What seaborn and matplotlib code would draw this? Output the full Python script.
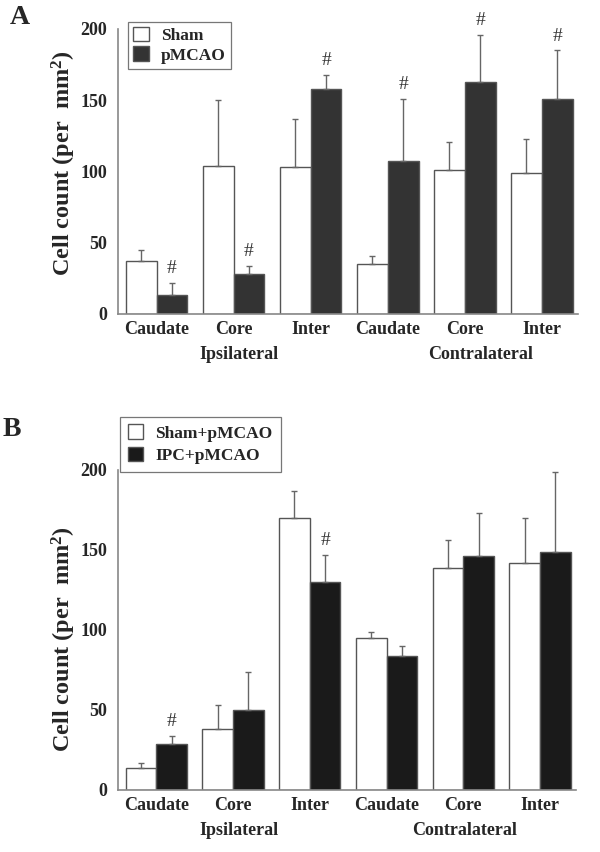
import matplotlib
matplotlib.use("Agg")
import matplotlib.pyplot as plt
import seaborn as sns
import numpy as np
import pandas as pd

# regions along the x axis (ipsilateral first, then contralateral)
regions = ["Caudate", "Core", "Inter", "Caudate", "Core", "Inter"]
region_keys = ["ipsi_caudate", "ipsi_core", "ipsi_inter",
               "contra_caudate", "contra_core", "contra_inter"]
sides = ["Ipsilateral", "Contralateral"]

# panel A
a_groups = ["Sham", "pMCAO"]
a_sham = [37, 104, 103, 35, 101, 99]
a_sham_err = [8, 46, 34, 6, 20, 24]
a_pmcao = [13, 28, 158, 107, 163, 151]
a_pmcao_err = [9, 6, 10, 44, 33, 34]
a_sig = [False, False, False, False, False, False], [True, True, True, True, True, True]

# panel B
b_groups = ["Sham+pMCAO", "IPC+pMCAO"]
b_sham = [14, 38, 170, 95, 139, 142]
b_sham_err = [3, 15, 17, 4, 17, 28]
b_ipc = [29, 50, 130, 84, 146, 149]
b_ipc_err = [5, 24, 17, 6, 27, 50]
b_sig = [False, False, False, False, False, False], [True, False, True, False, False, False]

sns.set_style("white")
plt.rcParams["font.family"] = ["Liberation Serif", "DejaVu Serif"]
plt.rcParams["font.weight"] = "bold"
plt.rcParams["mathtext.fontset"] = "custom"
plt.rcParams["mathtext.rm"] = "Liberation Serif:bold"
plt.rcParams["mathtext.bf"] = "Liberation Serif:bold"
plt.rcParams["mathtext.it"] = "Liberation Serif:bold"

fig = plt.figure(figsize=(6, 8.52), dpi=100)
ax_a = fig.add_axes([0.1967, 0.6315, 0.7667, 0.3345])
ax_b = fig.add_axes([0.1967, 0.0728, 0.7633, 0.3756])


def panel(ax, groups, v1, e1, v2, e2, sig, dark, leg_anchor, leg_loc, side_x, label_y,
          leg_spacing, leg_pad):
    df = pd.DataFrame({
        "region": region_keys * 2,
        "count": v1 + v2,
        "group": [groups[0]] * 6 + [groups[1]] * 6,
    })
    sns.barplot(data=df, x="region", y="count", hue="group", order=region_keys,
                hue_order=groups, palette={groups[0]: "white", groups[1]: dark},
                saturation=1, edgecolor="#555555", linewidth=1.0,
                errorbar=None, ax=ax)
    pos = np.arange(len(region_keys))
    for off, vals, errs, flags in [(-0.2, v1, e1, sig[0]), (0.2, v2, e2, sig[1])]:
        ax.errorbar(pos + off, vals, yerr=[np.zeros(len(errs)), errs], fmt="none",
                    ecolor="#666666", elinewidth=1.0, capsize=2.5, capthick=1.0)
        for x, v, e, f in zip(pos + off, vals, errs, flags):
            if f:
                ax.annotate("#", (x, v + e), xytext=(0, 4), textcoords="offset points",
                            ha="center", va="bottom", fontsize=14, fontweight="normal",
                            color="#333333")
    ax.set_xlim(-0.5, 5.47)
    ax.set_ylim(0, 200)
    ax.set_yticks([0, 50, 100, 150, 200])
    ax.set_xticks(pos)
    ax.set_xticklabels(regions, fontsize=13, fontweight="bold")
    ax.tick_params(axis="x", length=0, pad=5)
    ax.tick_params(axis="y", length=5, width=1, color="#888888", direction="out",
                   labelsize=13, pad=3)
    for t in ax.get_yticklabels():
        t.set_fontweight("bold")
    ax.set_xlabel("")
    ax.set_ylabel("Cell count (per  mm$^2$)", fontsize=17.5, fontweight="bold")
    ax.yaxis.set_label_coords(-0.088, label_y)
    for s in ["top", "right"]:
        ax.spines[s].set_visible(False)
    for s in ["left", "bottom"]:
        ax.spines[s].set_color("#888888")
        ax.spines[s].set_linewidth(1.2)
    for x, name in zip(side_x, sides):
        ax.annotate(name, (x, 0), xycoords=("data", "axes fraction"),
                    xytext=(0, -23), textcoords="offset points",
                    ha="center", va="top", fontsize=13, fontweight="bold")
    leg = ax.legend(loc=leg_loc, bbox_to_anchor=leg_anchor, frameon=True, fancybox=False,
                    edgecolor="#555555", handlelength=0.9, handleheight=0.9,
                    handletextpad=0.7, borderpad=leg_pad, labelspacing=leg_spacing,
                    borderaxespad=0,
                    prop={"weight": "bold", "size": 12.5, "family": "Liberation Serif"})
    leg.get_frame().set_linewidth(0.9)
    leg.set_clip_on(False)
    return ax


panel(ax_a, a_groups, a_sham, a_sham_err, a_pmcao, a_pmcao_err, a_sig, "#333333",
      (0.022, 1.025), "upper left", [1.07, 4.2], 0.53, 0.12, 0.3)
panel(ax_b, b_groups, b_sham, b_sham_err, b_ipc, b_ipc_err, b_sig, "#1a1a1a",
      (0.004, 0.994), "lower left", [1.07, 4.02], 0.47, 0.3, 0.45)

fig.text(20 / 600, 1 - 17 / 852, "A", fontsize=20, fontweight="bold", ha="center", va="center")
fig.text(12 / 600, 1 - 430 / 852, "B", fontsize=20, fontweight="bold", ha="center", va="center")

fig.savefig("out.png", dpi=100)
